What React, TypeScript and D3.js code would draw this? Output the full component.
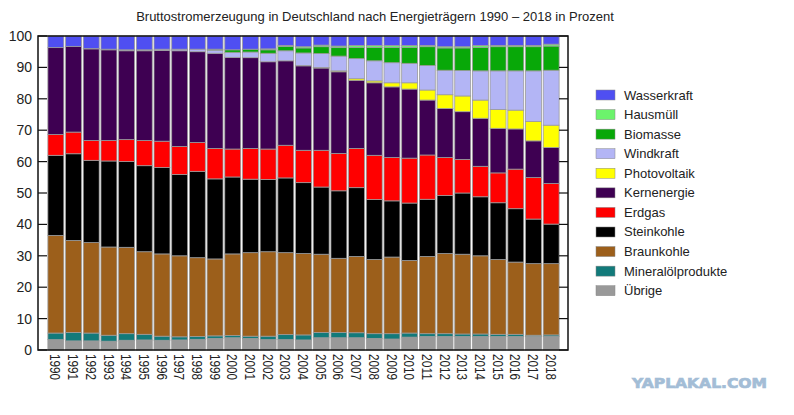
import { useEffect, useRef } from "react";
import * as d3 from "d3";

const years = [
	"1990", "1991", "1992", "1993", "1994", "1995", "1996", "1997", "1998", "1999",
	"2000", "2001", "2002", "2003", "2004", "2005", "2006", "2007", "2008", "2009",
	"2010", "2011", "2012", "2013", "2014", "2015", "2016", "2017", "2018",
];

// shares in percent, stacked bottom to top
const uebrige = [3.3, 2.9, 2.9, 2.8, 3.1, 3.2, 3.1, 3.2, 3.4, 3.7, 3.9, 3.7, 3.3, 3.3, 3.2, 3.9, 3.9, 3.9, 3.7, 3.5, 4.1, 4.3, 4.3, 4.3, 4.3, 4.3, 4.3, 4.3, 4.3];
const mineraloel = [2.1, 2.7, 2.5, 1.9, 2.1, 1.8, 1.3, 1.0, 0.9, 0.8, 0.7, 0.7, 1.1, 1.6, 1.6, 1.7, 1.7, 1.6, 1.5, 1.7, 1.3, 0.9, 0.9, 0.8, 0.8, 0.7, 0.7, 0.4, 0.5];
const braunkohle = [31.1, 29.3, 28.8, 28.1, 27.5, 26.3, 26.2, 25.8, 25.1, 24.5, 26.0, 26.6, 26.9, 26.1, 25.9, 24.9, 23.6, 24.3, 23.6, 24.4, 23.1, 24.6, 25.5, 25.4, 24.9, 23.8, 23.0, 22.8, 22.7];
const steinkohle = [25.5, 27.6, 26.2, 27.4, 27.3, 27.4, 27.5, 25.9, 27.5, 25.5, 24.5, 23.4, 23.0, 23.8, 22.6, 21.4, 21.5, 21.9, 19.1, 17.9, 18.3, 18.2, 18.5, 19.5, 18.8, 18.1, 17.0, 14.2, 12.6];
const erdgas = [6.6, 6.9, 6.3, 6.5, 7.0, 8.0, 8.4, 8.9, 9.2, 9.7, 8.9, 9.8, 9.7, 10.4, 10.3, 11.7, 11.9, 12.5, 14.1, 13.8, 14.3, 14.1, 12.1, 10.7, 9.7, 9.5, 12.6, 13.2, 12.9];
const kernenergie = [27.7, 27.3, 29.2, 28.9, 28.3, 28.6, 28.9, 30.5, 28.9, 30.3, 29.2, 28.9, 27.8, 26.9, 26.9, 26.2, 26.0, 21.7, 23.1, 22.5, 22.0, 17.5, 15.6, 15.2, 15.3, 14.2, 12.8, 11.7, 11.5];
const photovoltaik = [0, 0, 0, 0, 0, 0, 0, 0, 0, 0, 0, 0, 0, 0, 0.1, 0.2, 0.3, 0.5, 0.6, 1.3, 2.0, 3.2, 4.4, 5.0, 5.8, 6.0, 6.0, 6.2, 7.1];
const windkraft = [0, 0, 0.1, 0.2, 0.3, 0.3, 0.4, 0.5, 0.8, 1.0, 1.6, 1.8, 2.7, 3.2, 4.0, 4.4, 4.7, 6.4, 6.4, 6.4, 6.2, 7.8, 7.8, 8.1, 9.3, 12.3, 12.5, 16.1, 17.5];
const biomasse = [0, 0, 0, 0, 0, 0, 0, 0, 0, 0.3, 0.8, 0.9, 1.1, 1.4, 1.6, 2.2, 2.7, 3.6, 4.3, 4.9, 5.1, 6.0, 7.1, 7.2, 7.5, 7.7, 7.7, 7.7, 7.7];
const hausmuell = [0, 0, 0, 0, 0, 0, 0, 0, 0, 0, 0, 0, 0.3, 0.3, 0.4, 0.5, 0.5, 0.6, 0.6, 0.6, 0.6, 0.4, 0.4, 0.4, 0.6, 0.4, 0.4, 0.4, 0.6];
const wasserkraft = [3.7, 3.3, 4.0, 4.2, 4.4, 4.4, 4.2, 4.2, 4.2, 4.2, 4.4, 4.2, 4.1, 3.0, 3.4, 2.9, 3.2, 3.0, 3.0, 3.0, 3.0, 3.0, 3.4, 3.4, 3.0, 3.0, 3.0, 3.0, 2.6];

const seriesKeys = [
	"Übrige", "Mineralölprodukte", "Braunkohle", "Steinkohle", "Erdgas", "Kernenergie",
	"Photovoltaik", "Windkraft", "Biomasse", "Hausmüll", "Wasserkraft",
];
const seriesValues = [
	uebrige, mineraloel, braunkohle, steinkohle, erdgas, kernenergie,
	photovoltaik, windkraft, biomasse, hausmuell, wasserkraft,
];
const seriesColors = [
	"#999999", "#127a7a", "#9c5f1b", "#000000", "#ff0000", "#3e0052",
	"#ffff00", "#b3b5f5", "#08a808", "#6cf36c", "#4f4ff2",
];
const yTicks = [0, 10, 20, 30, 40, 50, 60, 70, 80, 90, 100];

const title = "Bruttostromerzeugung in Deutschland nach Energieträgern 1990 – 2018 in Prozent";
const font = "'Liberation Sans', Arial, sans-serif";

export default function App() {
	const svgRef = useRef<SVGSVGElement>(null);
	const width = 794;
	const height = 415;

	useEffect(() => {
		if (!svgRef.current) return;
		const svg = d3.select(svgRef.current);
		svg.selectAll("*").remove();

		const plot = { left: 38, right: 568, top: 36, bottom: 350 };

		const rows = years.map((year, i) => {
			const row: Record<string, number | string> = { year };
			seriesKeys.forEach((k, j) => (row[k] = seriesValues[j][i]));
			return row;
		});

		const stack = d3
			.stack<Record<string, number | string>>()
			.keys(seriesKeys)
			.value((d, key) => d[key] as number);
		const layers = stack(rows);

		const x = d3
			.scaleBand()
			.domain(years)
			.range([47, 560])
			.paddingInner(0.1)
			.paddingOuter(0.05);

		const y = d3.scaleLinear().domain([0, 100]).range([plot.bottom, plot.top]);

		svg.append("rect").attr("width", width).attr("height", height).attr("fill", "#fff");

		svg.append("text")
			.attr("x", 375)
			.attr("y", 21)
			.attr("text-anchor", "middle")
			.attr("font-family", font)
			.attr("font-size", 13)
			.attr("fill", "#222")
			.text(title);

		// bars
		const g = svg.append("g");
		layers.forEach((layer, li) => {
			g.append("g")
				.attr("fill", seriesColors[li])
				.selectAll("rect")
				.data(layer.filter((d) => d[1] - d[0] > 0))
				.join("rect")
				.attr("x", (d) => x(d.data.year as string)!)
				.attr("width", x.bandwidth())
				.attr("y", (d) => y(d[1]))
				.attr("height", (d) => y(d[0]) - y(d[1]))
				.attr("stroke", "#9b9b9b")
				.attr("stroke-width", 0.8);
		});

		// frame + inward ticks
		svg.append("rect")
			.attr("x", plot.left)
			.attr("y", plot.top)
			.attr("width", plot.right - plot.left)
			.attr("height", plot.bottom - plot.top)
			.attr("fill", "none")
			.attr("stroke", "#111")
			.attr("stroke-width", 1.5);

		const ticks = svg.append("g").attr("stroke", "#111").attr("stroke-width", 1.2);
		yTicks.forEach((t) => {
			ticks.append("line")
				.attr("x1", plot.left).attr("x2", plot.left + 9)
				.attr("y1", y(t)).attr("y2", y(t));
			ticks.append("line")
				.attr("x1", plot.right - 9).attr("x2", plot.right)
				.attr("y1", y(t)).attr("y2", y(t));
		});

		svg.append("g")
			.selectAll("text")
			.data(yTicks)
			.join("text")
			.attr("x", 32)
			.attr("y", (d) => y(d) + 5)
			.attr("text-anchor", "end")
			.attr("font-family", font)
			.attr("font-size", 14)
			.attr("fill", "#222")
			.text((d) => d);

		svg.append("g")
			.selectAll("text")
			.data(years)
			.join("text")
			.attr(
				"transform",
				(d) => `translate(${x(d)! + x.bandwidth() / 2},354) rotate(90)`,
			)
			.attr("dy", "0.36em")
			.attr("font-family", font)
			.attr("font-size", 15)
			.attr("textLength", 26)
			.attr("lengthAdjust", "spacingAndGlyphs")
			.attr("fill", "#222")
			.text((d) => d);

		// legend, top entry is the top of the stack
		const legendKeys = seriesKeys.slice().reverse();
		const legendColors = seriesColors.slice().reverse();
		const legend = svg.append("g");
		legendKeys.forEach((k, i) => {
			const cy = 95 + i * 19.57;
			legend.append("rect")
				.attr("x", 596)
				.attr("y", cy - 5)
				.attr("width", 19)
				.attr("height", 10)
				.attr("fill", legendColors[i])
				.attr("stroke", "#888")
				.attr("stroke-width", 0.5);
			legend.append("text")
				.attr("x", 624)
				.attr("y", cy + 4.5)
				.attr("font-family", font)
				.attr("font-size", 13)
				.attr("fill", "#222")
				.text(k);
		});

		svg.append("text")
			.attr("x", 632)
			.attr("y", 388)
			.attr("font-family", "'DejaVu Sans', sans-serif")
			.attr("font-weight", "bold")
			.attr("font-size", 13.5)
			.attr("textLength", 135)
			.attr("lengthAdjust", "spacingAndGlyphs")
			.attr("fill", "#a3bdd6")
			.attr("stroke", "#a3bdd6")
			.attr("stroke-width", 0.7)
			.text("YAPLAKAL.COM");
	}, []);

	return (
		<svg
			ref={svgRef}
			width={width}
			height={height}
			style={{ position: "absolute", left: 0, top: 0 }}
		/>
	);
}
